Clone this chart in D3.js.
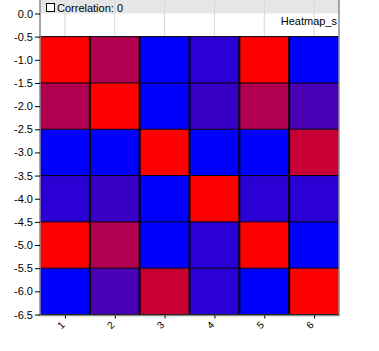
<!DOCTYPE html>
<html>
<head>
<meta charset="utf-8">
<script src="https://cdn.jsdelivr.net/npm/d3@7"></script>
<style>
  body { margin: 0; background: #fff; }
  svg { font-family: "Liberation Sans", Arial, sans-serif; }
</style>
</head>
<body>
<svg id="drawing_region"></svg>
<script>
const categories = ['1', '2', '3', '4', '5', '6'];
const yTickValues = [0, -0.5, -1, -1.5, -2, -2.5, -3, -3.5, -4, -4.5, -5, -5.5, -6, -6.5];
const yTickLabels = ['0.0', '-0.5', '-1.0', '-1.5', '-2.0', '-2.5', '-3.0', '-3.5',
    '-4.0', '-4.5', '-5.0', '-5.5', '-6.0', '-6.5'];
// colour level per cell, 0 = blue, 1 = red
const row1 = [1.00, 0.69, 0.00, 0.17, 1.00, 0.00];
const row2 = [0.69, 1.00, 0.00, 0.22, 0.69, 0.29];
const row3 = [0.00, 0.00, 1.00, 0.00, 0.00, 0.79];
const row4 = [0.17, 0.22, 0.00, 1.00, 0.17, 0.17];
const row5 = [1.00, 0.69, 0.00, 0.17, 1.00, 0.00];
const row6 = [0.00, 0.29, 0.79, 0.17, 0.00, 1.00];
const rows = [row1, row2, row3, row4, row5, row6];
const title = 'Heatmap_s';
const legendLabel = 'Correlation: 0';

const width = 379, height = 351;
const plotLeft = 40, plotRight = 339, plotTop = 13.5, plotBottom = 314.5;

const svg = d3.select('#drawing_region')
    .attr('width', width)
    .attr('height', height);

const xscale = d3.scaleLinear().domain([0.5, 6.5]).range([plotLeft, plotRight]);
const yscale = d3.scaleLinear().domain([0, -6.5]).range([plotTop, plotBottom]);
const color = d3.scaleLinear().domain([0, 1]).range(['#0000ff', '#ff0000'])
    .interpolate(d3.interpolateRgb);

const cells = [];
rows.forEach((r, i) => r.forEach((v, j) => cells.push({ row: i + 1, col: j + 1, v: v })));

// header band
svg.append('rect')
    .attr('x', plotLeft).attr('y', 0)
    .attr('width', plotRight - plotLeft).attr('height', plotTop)
    .attr('fill', '#e6e6e6');

// light grid at column centres
svg.append('g')
    .selectAll('line')
    .data(categories)
    .join('line')
    .attr('x1', (d, i) => xscale(i + 1)).attr('x2', (d, i) => xscale(i + 1))
    .attr('y1', 0).attr('y2', yscale(-0.5))
    .attr('stroke', '#d8d8d8');

// cells
svg.append('g')
    .selectAll('rect')
    .data(cells)
    .join('rect')
    .attr('x', d => xscale(d.col - 0.5))
    .attr('y', d => yscale(-d.row + 0.5))
    .attr('width', d => xscale(d.col + 0.5) - xscale(d.col - 0.5))
    .attr('height', d => yscale(-d.row - 0.5) - yscale(-d.row + 0.5))
    .attr('fill', d => color(d.v));

// cell borders
const hb = d3.range(0, 7).map(i => -i - 0.5);
svg.append('g')
    .selectAll('line')
    .data(hb)
    .join('line')
    .attr('x1', plotLeft).attr('x2', plotRight)
    .attr('y1', d => yscale(d)).attr('y2', d => yscale(d))
    .attr('stroke', '#000').attr('stroke-width', 1);
const vb = d3.range(1, 6).map(i => i + 0.5);
svg.append('g')
    .selectAll('line')
    .data(vb)
    .join('line')
    .attr('x1', d => xscale(d)).attr('x2', d => xscale(d))
    .attr('y1', yscale(-0.5)).attr('y2', yscale(-6.5))
    .attr('stroke', '#000').attr('stroke-width', 2);

// frame
svg.append('path')
    .attr('d', `M${plotLeft},0V${plotBottom + 1}H${plotRight}V0`)
    .attr('fill', 'none')
    .attr('stroke', '#8c8c8c')
    .attr('stroke-width', 1.5);

// y axis
const yaxis = d3.axisLeft(yscale)
    .tickValues(yTickValues)
    .tickFormat((d, i) => yTickLabels[i])
    .tickSize(5);
const yg = svg.append('g')
    .attr('transform', `translate(${plotLeft},0)`)
    .call(yaxis);
yg.select('.domain').remove();
yg.selectAll('.tick line').attr('stroke', '#000');
yg.selectAll('.tick text')
    .attr('font-size', 11)
    .attr('font-family', '"Liberation Sans", Arial, sans-serif')
    .attr('fill', '#000')
    .attr('x', -7);

// x axis
const xaxis = d3.axisBottom(xscale)
    .tickValues(d3.range(1, 7))
    .tickFormat((d, i) => categories[i])
    .tickSize(3);
const xg = svg.append('g')
    .attr('transform', `translate(0,${plotBottom + 1})`)
    .call(xaxis);
xg.select('.domain').remove();
xg.selectAll('.tick line').attr('stroke', '#000');
xg.selectAll('.tick text')
    .attr('font-size', 10)
    .attr('font-family', '"Liberation Sans", Arial, sans-serif')
    .attr('fill', '#000')
    .attr('y', 0)
    .attr('dy', 0)
    .attr('text-anchor', 'middle')
    .attr('transform', 'translate(-2,12) rotate(-45)');

// legend checkbox and label
svg.append('rect')
    .attr('x', 46.5).attr('y', 3.5)
    .attr('width', 8).attr('height', 8)
    .attr('fill', '#fff')
    .attr('stroke', '#000');
svg.append('text')
    .attr('x', 57).attr('y', 11.5)
    .attr('font-size', 11)
    .text(legendLabel);

// title
svg.append('text')
    .attr('x', plotRight - 2).attr('y', 25)
    .attr('text-anchor', 'end')
    .attr('font-size', 11)
    .text(title);
</script>
</body>
</html>
